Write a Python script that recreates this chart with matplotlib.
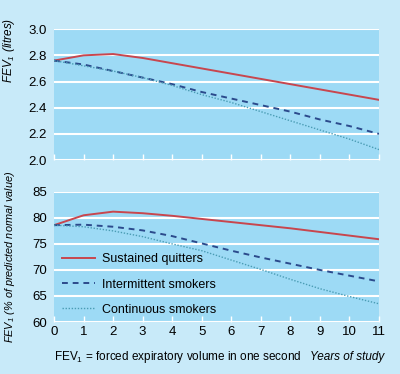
import matplotlib
matplotlib.use('Agg')
import matplotlib.pyplot as plt

years = [0, 1, 2, 3, 4, 5, 6, 7, 8, 9, 10, 11]

# FEV1 in litres
fev_quitters = [2.76, 2.80, 2.81, 2.78, 2.74, 2.70, 2.66, 2.62, 2.58, 2.54, 2.50, 2.46]
fev_intermittent = [2.76, 2.73, 2.68, 2.63, 2.58, 2.52, 2.47, 2.42, 2.37, 2.31, 2.26, 2.20]
fev_continuous = [2.76, 2.72, 2.68, 2.63, 2.57, 2.50, 2.44, 2.37, 2.30, 2.23, 2.16, 2.08]

# FEV1 % of predicted normal value
pct_quitters = [78.6, 80.5, 81.2, 80.9, 80.4, 79.8, 79.2, 78.6, 78.0, 77.3, 76.6, 75.9]
pct_intermittent = [78.6, 78.7, 78.3, 77.6, 76.5, 75.1, 73.7, 72.4, 71.2, 70.0, 68.9, 67.8]
pct_continuous = [78.6, 78.3, 77.5, 76.4, 75.0, 73.7, 71.9, 70.1, 68.2, 66.4, 64.9, 63.5]

labels = ['Sustained quitters', 'Intermittent smokers', 'Continuous smokers']

plt.rcParams['font.family'] = ['Liberation Sans', 'DejaVu Sans']
plt.rcParams['mathtext.default'] = 'regular'

fig_bg = '#c8eaf9'
ax_bg = '#9ddaf5'
red = '#c8464e'
blue = '#2b4a8c'
teal = '#4a9cb4'

fig = plt.figure(figsize=(4, 3.74), dpi=100, facecolor=fig_bg)
ax1 = fig.add_axes([0.135, 0.572, 0.8125, 0.350])
ax2 = fig.add_axes([0.135, 0.139, 0.8125, 0.348])


def style(ax, ylim, yticks):
    ax.set_facecolor(ax_bg)
    for s in ax.spines.values():
        s.set_visible(False)
    ax.set_xlim(0, 11)
    ax.set_ylim(*ylim)
    ax.set_yticks(yticks)
    ax.set_xticks(years)
    ax.grid(axis='y', color='white', linewidth=1.5)
    ax.set_axisbelow(True)
    ax.tick_params(axis='y', length=0, labelsize=9.5, pad=5)
    ax.tick_params(axis='x', direction='in', color='white', length=4,
                   width=1, labelsize=9.5, pad=3)


style(ax1, (2.0, 3.0), [2.0, 2.2, 2.4, 2.6, 2.8, 3.0])
ax1.set_yticklabels(['%.1f' % v for v in [2.0, 2.2, 2.4, 2.6, 2.8, 3.0]])
ax1.tick_params(axis='x', labelbottom=False)
ax1.plot(years, fev_quitters, color=red, lw=1.4)
ax1.plot(years, fev_intermittent, color=blue, lw=1.4, ls=(0, (3, 2.5)))
ax1.plot(years, fev_continuous, color=teal, lw=1.0, ls=(0, (1, 1.2)))
ax1.set_ylabel('FEV$_1$ (litres)', fontstyle='italic', fontsize=8.5)
ax1.yaxis.set_label_coords(-0.115, 0.84)

style(ax2, (60, 85), [60, 65, 70, 75, 80, 85])
ax2.plot(years, pct_quitters, color=red, lw=1.4, label=labels[0])
ax2.plot(years, pct_intermittent, color=blue, lw=1.4, ls=(0, (3, 2.5)), label=labels[1])
ax2.plot(years, pct_continuous, color=teal, lw=1.0, ls=(0, (1, 1.2)), label=labels[2])
ax2.set_ylabel('FEV$_1$ (% of predicted normal value)', fontstyle='italic',
               fontsize=7.8)
ax2.yaxis.set_label_coords(-0.115, 0.5)
leg = ax2.legend(loc='lower left', frameon=False, fontsize=9,
                 handlelength=2.6, handletextpad=0.6, labelspacing=1.05,
                 borderaxespad=0.0, bbox_to_anchor=(0.01, 0.01))

fig.text(0.135, 0.045, 'FEV$_1$ = forced expiratory volume in one second',
         fontsize=8.5, ha='left', va='center')
fig.text(0.96, 0.045, 'Years of study', fontsize=8.5, fontstyle='italic',
         ha='right', va='center')

fig.savefig('out.png', dpi=100, facecolor=fig_bg)
